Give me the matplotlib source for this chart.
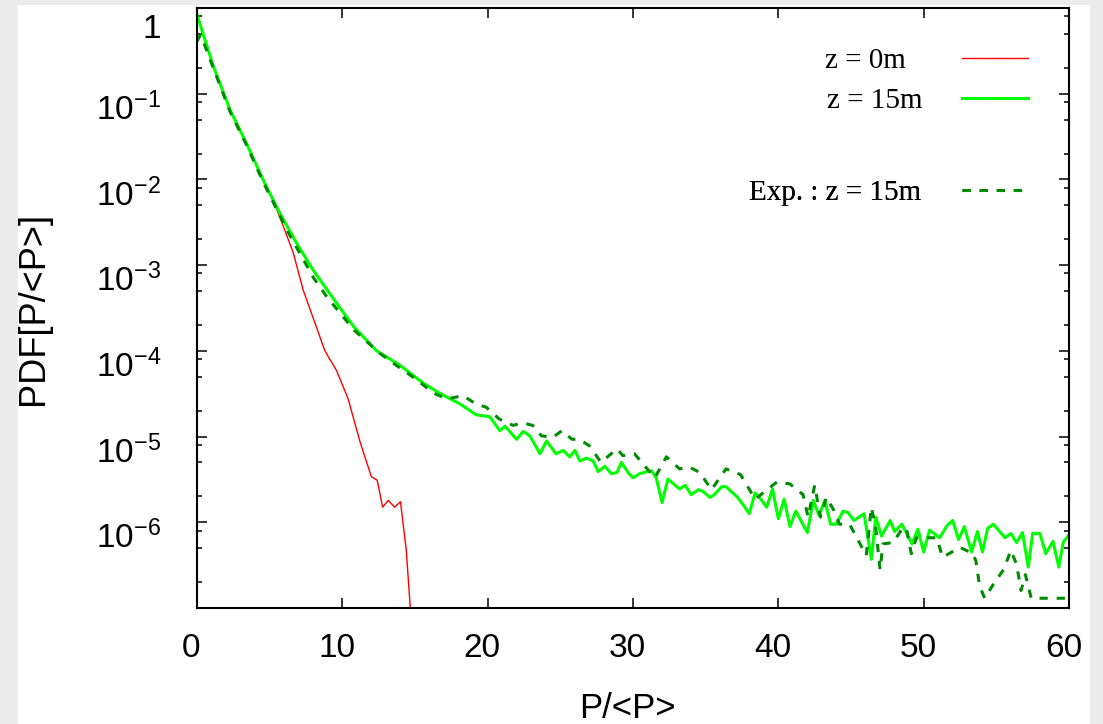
import matplotlib
matplotlib.use("Agg")
import matplotlib.pyplot as plt
from matplotlib.patches import Rectangle
from matplotlib.ticker import FixedLocator, LogLocator, NullFormatter
from matplotlib.transforms import ScaledTranslation

# ---- data (P/<P>, PDF) ----
z0_x = [0.0, 1.12, 2.27, 3.42, 4.56, 5.02, 5.71, 6.62, 7.31, 8.0, 8.8, 9.6,
        10.4, 11.2, 11.55, 12.0, 12.4, 12.77, 13.16, 13.6, 14.0, 14.4, 14.8]
z0_pdf = [0.84, 0.21, 0.065, 0.026, 9.8e-3, 6.9e-3, 3.6e-3, 1.4e-3, 5.1e-4, 2.4e-4,
          1.0e-4, 5.9e-5, 2.75e-5, 8.9e-6, 5.8e-6, 3.4e-6, 3.1e-6, 1.5e-6, 1.8e-6,
          1.5e-6, 1.74e-6, 4.7e-7, 5e-8]

z15_x = [0.0, 1.12, 2.27, 3.42, 4.56, 5.71, 6.86, 8.0, 9.37, 10.8, 12.36, 13.96,
         15.57, 16.7, 18.1, 19.2, 20.15, 20.84, 21.2, 21.99, 22.45, 22.9, 23.6,
         24.05, 24.7, 25.2, 25.65, 26.0, 26.34, 26.8, 27.26, 27.6, 28.06, 28.5,
         28.9, 29.2, 29.67, 30.0, 30.46, 31.27, 31.6, 32.0, 32.4, 33.2, 33.6,
         34.0, 34.5, 34.8, 35.3, 35.6, 36.1, 36.4, 37.2, 37.7, 38.0, 38.4, 38.7,
         39.2, 39.6, 40.0, 40.4, 40.8, 41.2, 42.0, 42.4, 42.8, 43.2, 43.6, 44.0,
         44.45, 44.8, 45.2, 45.9, 46.4, 46.7, 47.1, 47.7, 48.0, 48.5, 49.2, 49.6,
         50.0, 50.4, 51.1, 51.6, 52.0, 52.4, 52.8, 53.3, 53.7, 54.05, 54.4, 54.8,
         55.6, 56.0, 56.4, 56.8, 57.2, 57.5, 58.0, 58.4, 58.9, 59.3, 59.6, 60.0]
z15_pdf = [0.84, 0.21, 0.065, 0.026, 9.8e-3, 4.0e-3, 1.8e-3, 8.7e-4, 4.1e-4, 1.9e-4,
           1.0e-4, 6.8e-5, 4.2e-5, 3.2e-5, 2.4e-5, 1.8e-5, 1.7e-5, 1.17e-5, 1.32e-5,
           9.3e-6, 1.15e-5, 1.02e-5, 6.3e-6, 8.9e-6, 6.3e-6, 6.9e-6, 5.8e-6, 6.9e-6,
           5.2e-6, 5.6e-6, 5.2e-6, 3.9e-6, 4.5e-6, 3.7e-6, 3.8e-6, 5.0e-6, 3.8e-6,
           3.3e-6, 3.7e-6, 4.0e-6, 3.3e-6, 1.7e-6, 3.2e-6, 2.45e-6, 2.7e-6, 2.1e-6,
           2.4e-6, 2.3e-6, 1.95e-6, 2.1e-6, 2.6e-6, 2.6e-6, 1.95e-6, 1.5e-6, 1.26e-6,
           2.2e-6, 1.95e-6, 1.5e-6, 2.45e-6, 1.1e-6, 1.86e-6, 8.9e-7, 1.35e-6, 7.6e-7,
           1.8e-6, 1.2e-6, 1.8e-6, 9.5e-7, 9.5e-7, 1.35e-6, 1.3e-6, 1.05e-6, 1.26e-6,
           3.7e-7, 1.15e-6, 6.9e-7, 1.05e-6, 7.8e-7, 9.5e-7, 5.6e-7, 8.3e-7, 4.5e-7,
           8.1e-7, 6.6e-7, 9.1e-7, 1.05e-6, 6.3e-7, 8.9e-7, 4.5e-7, 7.8e-7, 4.5e-7,
           8.5e-7, 9.5e-7, 6.6e-7, 7.4e-7, 5.8e-7, 7.6e-7, 3.0e-7, 7.4e-7, 7.4e-7,
           4.3e-7, 6.0e-7, 3.0e-7, 5.8e-7, 7.2e-7]

exp_x = [0.0, 0.25, 1.12, 2.27, 3.42, 4.56, 6.17, 8.0, 8.92, 10.8, 12.6, 13.7, 14.9,
         16.3, 17.2, 18.3, 19.2, 19.9, 20.8, 21.75, 22.4, 23.1, 23.7, 24.5, 25.1,
         25.8, 26.3, 27.0, 27.8, 28.9, 29.3, 30.1, 30.6, 31.5, 32.3, 33.2, 33.9,
         34.6, 35.4, 36.4, 37.4, 38.4, 39.9, 40.8, 41.7, 42.05, 42.5, 42.9, 43.3,
         43.8, 44.2, 44.9, 45.4, 46.05, 46.4, 46.7, 47.0, 47.2, 47.9, 48.5, 48.8,
         49.15, 49.5, 50.2, 50.9, 51.3, 52.5, 53.4, 53.6, 53.85, 54.2, 54.8, 55.5,
         56.0, 56.4, 56.7, 57.0, 57.4, 58.4, 60.0]
exp_pdf = [0.41, 0.49, 0.20, 0.062, 0.025, 9.3e-3, 2.6e-3, 7.2e-4, 4.3e-4, 1.75e-4,
           9.3e-5, 6.8e-5, 4.9e-5, 3.2e-5, 2.75e-5, 3.0e-5, 2.4e-5, 2.2e-5, 1.6e-5,
           1.35e-5, 1.45e-5, 1.35e-5, 1.02e-5, 9.8e-6, 1.17e-5, 9.3e-6, 9.3e-6,
           7.8e-6, 5.0e-6, 7.2e-6, 6.0e-6, 6.3e-6, 5.0e-6, 3.3e-6, 5.8e-6, 4.2e-6,
           4.4e-6, 3.8e-6, 2.4e-6, 4.2e-6, 3.6e-6, 1.86e-6, 2.95e-6, 2.8e-6, 2.1e-6,
           1.15e-6, 2.7e-6, 1.15e-6, 1.95e-6, 1.4e-6, 9.5e-7, 9.5e-7, 6.6e-7, 4.1e-7,
           1.5e-6, 8.7e-7, 2.8e-7, 5.6e-7, 5.8e-7, 8.3e-7, 8.7e-7, 4.3e-7, 6.6e-7,
           6.6e-7, 6.6e-7, 3.9e-7, 5.1e-7, 4.3e-7, 3.5e-7, 1.8e-7, 1.3e-7, 1.9e-7,
           2.8e-7, 4.7e-7, 3.2e-7, 1.6e-7, 2.45e-7, 1.3e-7, 1.3e-7, 1.3e-7]

xtick_vals = [0, 10, 20, 30, 40, 50, 60]
ytick_vals = [1, 1e-1, 1e-2, 1e-3, 1e-4, 1e-5, 1e-6]
ytick_labels = ["1", r"$10^{-1}$", r"$10^{-2}$", r"$10^{-3}$", r"$10^{-4}$",
                r"$10^{-5}$", r"$10^{-6}$"]

plt.rcParams["font.family"] = ["Liberation Sans", "DejaVu Sans"]
plt.rcParams["mathtext.fontset"] = "custom"
plt.rcParams["mathtext.rm"] = "Liberation Sans"
plt.rcParams["mathtext.default"] = "regular"

fig = plt.figure(figsize=(11.03, 7.24), dpi=100, facecolor="#ececec")
fig.patches.append(Rectangle((18 / 1103, 0), 1072 / 1103, 719 / 724,
                             transform=fig.transFigure, facecolor="white",
                             edgecolor="none", zorder=-10))
ax = fig.add_axes([197 / 1103, 116 / 724, 872 / 1103, 600 / 724])

l0, = ax.plot(z0_x, z0_pdf, color="#ff0000", lw=1.0)
l15, = ax.plot(z15_x, z15_pdf, color="#00ff00", lw=2.2)
lexp, = ax.plot(exp_x, exp_pdf, color="#008c00", lw=2.2, ls=(0, (2.7, 2.9)))

ax.set_yscale("log")
ax.set_xlim(0, 60)
ax.set_ylim(1e-7, 1)
ax.set_xticks(xtick_vals)
ax.set_xticklabels([str(v) for v in xtick_vals])
ax.yaxis.set_major_locator(FixedLocator(ytick_vals))
ax.set_yticklabels(ytick_labels)
ax.yaxis.set_minor_locator(LogLocator(subs=(2, 5, 8), numticks=30))
ax.yaxis.set_minor_formatter(NullFormatter())

ax.tick_params(which="both", direction="in", top=True, right=True, width=1.1)
ax.tick_params(which="major", length=7.5)
ax.tick_params(which="minor", length=3.8)
ax.tick_params(axis="y", labelsize=24, pad=26)
ax.tick_params(axis="x", labelsize=24, pad=18)
for sp in ax.spines.values():
    sp.set_linewidth(1.5)

# gnuplot puts the y labels a bit below their ticks
shift_y = ScaledTranslation(0, -9 / 72, fig.dpi_scale_trans)
for t in ax.yaxis.get_major_ticks():
    t.label1.set_transform(t.label1.get_transform() + shift_y)
ax.yaxis.get_major_ticks()[0].label1.set_transform(
    ax.yaxis.get_major_ticks()[0].label1.get_transform()
    + ScaledTranslation(0, -4 / 72, fig.dpi_scale_trans))
shift_x = ScaledTranslation(-4 / 72, 0, fig.dpi_scale_trans)
for t in ax.xaxis.get_major_ticks():
    t.label1.set_transform(t.label1.get_transform() + shift_x)

ax.set_xlabel("P/<P>", fontsize=25)
ax.xaxis.set_label_coords(0.494, -0.14)
ax.set_ylabel("PDF[P/<P>]", fontsize=26)
ax.yaxis.set_label_coords(-0.168, 0.5)

# legend entries: (line, label, centre y in axes coords, text-to-sample gap)
entries = [(l0, "z = 0m", 0.912, 1.92),
           (l15, "z = 15m", 0.845, 1.37),
           (lexp, "Exp. : z = 15m", 0.692, 1.40)]
for line, label, yc, gap in entries:
    leg = ax.legend([line], [label], loc="center right", bbox_to_anchor=(0.953, yc),
                    frameon=False, markerfirst=False, borderpad=0, borderaxespad=0,
                    handlelength=2.26, handletextpad=gap,
                    prop={"family": "Liberation Serif", "size": 21})
    ax.add_artist(leg)

fig.savefig("out.png", dpi=100, facecolor=fig.get_facecolor())
